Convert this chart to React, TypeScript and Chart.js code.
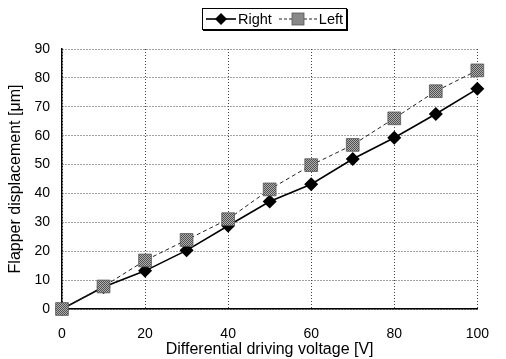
import React, { useEffect, useRef } from "react";
import { Chart, registerables } from "chart.js";

Chart.register(...registerables);

const voltages = [0, 10, 20, 30, 40, 50, 60, 70, 80, 90, 100];
const rightValues = [0, 7.6, 13.2, 20.3, 28.8, 37.2, 43.2, 51.9, 59.3, 67.5, 76.2];
const leftValues = [0, 7.8, 16.8, 23.9, 31.1, 41.4, 49.8, 56.8, 66.0, 75.4, 82.6];
const xTicks = [0, 20, 40, 60, 80, 100];
const yTicks = [0, 10, 20, 30, 40, 50, 60, 70, 80, 90];

const FONT = "Arial, 'Liberation Sans', sans-serif";

function makePattern(): CanvasPattern | string {
  const c = document.createElement("canvas");
  c.width = 2;
  c.height = 2;
  const ctx = c.getContext("2d");
  if (!ctx) return "#888";
  ctx.fillStyle = "#b0b0b0";
  ctx.fillRect(0, 0, 2, 2);
  ctx.fillStyle = "#505050";
  ctx.fillRect(0, 0, 1, 1);
  ctx.fillRect(1, 1, 1, 1);
  const p = ctx.createPattern(c, "repeat");
  return p || "#888";
}

export default function App() {
  const ref = useRef<HTMLCanvasElement | null>(null);

  useEffect(() => {
    if (!ref.current) return;
    const pattern = makePattern();
    const chart = new Chart(ref.current, {
      type: "line",
      data: {
        datasets: [
          {
            label: "Right",
            data: voltages.map((v, i) => ({ x: v, y: rightValues[i] })),
            borderColor: "#000",
            backgroundColor: "#000",
            borderWidth: 1.6,
            pointStyle: "rectRot",
            pointRadius: 7,
            pointBorderWidth: 0,
            pointBackgroundColor: "#000",
            order: 1,
            clip: false,
          },
          {
            label: "Left",
            data: voltages.map((v, i) => ({ x: v, y: leftValues[i] })),
            borderColor: "#222",
            borderWidth: 1,
            borderDash: [4, 3],
            pointStyle: "rect",
            pointRadius: 9,
            pointBorderWidth: 0.8,
            pointBorderColor: "#555",
            pointBackgroundColor: pattern as any,
            order: 0,
            clip: false,
          },
        ],
      },
      options: {
        animation: false,
        responsive: false,
        maintainAspectRatio: false,
        layout: { padding: { top: 49, right: 16, left: 0, bottom: 0 } },
        plugins: { legend: { display: false }, tooltip: { enabled: false } },
        scales: {
          x: {
            type: "linear",
            min: 0,
            max: 100,
            afterBuildTicks: (s: any) => {
              s.ticks = xTicks.map((v) => ({ value: v }));
            },
            afterFit: (s: any) => {
              s.height = 50;
            },
            ticks: {
              color: "#000",
              padding: 17,
              maxRotation: 0,
              font: { family: FONT, size: 14 },
            },
            grid: {
              color: "#444",
              lineWidth: 1,
              drawTicks: false,
            },
            border: { display: true, color: "#000", width: 1.5, dash: [1, 2] },
            title: {
              display: true,
              text: "Differential driving voltage [V]",
              color: "#000",
              font: { family: FONT, size: 16 },
              padding: { top: 0, bottom: 0 },
            },
          },
          y: {
            type: "linear",
            min: 0,
            max: 90,
            afterBuildTicks: (s: any) => {
              s.ticks = yTicks.map((v) => ({ value: v }));
            },
            afterFit: (s: any) => {
              s.width = 62;
            },
            ticks: {
              color: "#000",
              padding: 12,
              font: { family: FONT, size: 14 },
            },
            grid: {
              color: "#444",
              lineWidth: 1,
              drawTicks: false,
            },
            border: { display: true, color: "#000", width: 1.5, dash: [1, 2] },
            title: {
              display: true,
              text: "Flapper displacement [μm]",
              color: "#000",
              font: { family: FONT, size: 16 },
              padding: { top: 6, bottom: 0 },
            },
          },
        },
      },
    });
    return () => chart.destroy();
  }, []);

  return (
    <div style={{ position: "absolute", left: 0, top: 0, width: 506, height: 359, background: "#fff" }}>
      <canvas ref={ref} width={506} height={359} style={{ position: "absolute", left: 0, top: 0, width: 506, height: 359 }} />
      <div
        style={{
          position: "absolute",
          left: 202,
          top: 8,
          height: 20,
          padding: "0 3px 0 2px",
          border: "1px solid #000",
          boxShadow: "1px 1px 0 #000",
          display: "flex",
          alignItems: "center",
          fontFamily: FONT,
          fontSize: 14.5,
          color: "#000",
          background: "#fff",
        }}
      >
        <svg width={32} height={16} style={{ display: "block" }}>
          <line x1={1} y1={8} x2={31} y2={8} stroke="#000" strokeWidth={1.6} />
          <polygon points="16,2 22,8 16,14 10,8" fill="#000" />
        </svg>
        <span style={{ marginLeft: 1, marginRight: 6 }}>Right</span>
        <svg width={40} height={16} style={{ display: "block" }}>
          <line x1={1} y1={8} x2={39} y2={8} stroke="#222" strokeWidth={1} strokeDasharray="3,2" />
          <rect x={14} y={2} width={12} height={12} fill="#888" stroke="#555" strokeWidth={0.8} />
        </svg>
        <span style={{ marginLeft: 1 }}>Left</span>
      </div>
    </div>
  );
}
